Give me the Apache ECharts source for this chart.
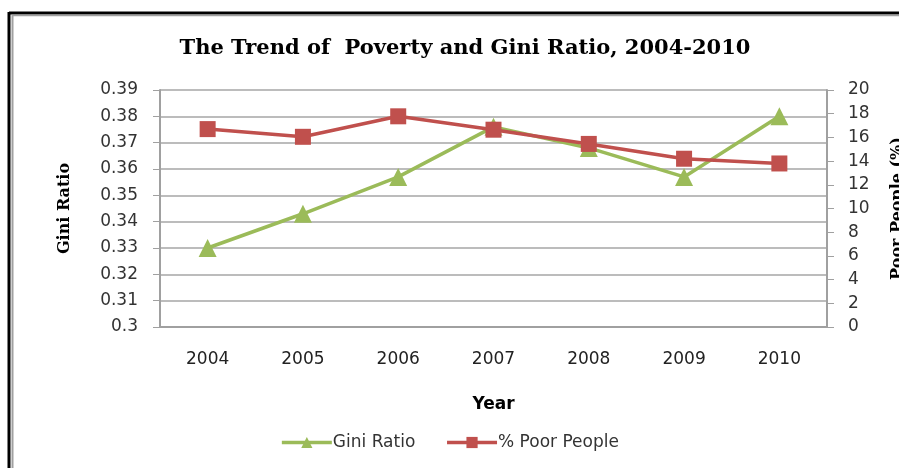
<!DOCTYPE html>
<html>
<head>
<meta charset="utf-8">
<script src="https://cdn.jsdelivr.net/npm/echarts@6/dist/echarts.min.js"></script>
<style>html,body{margin:0;padding:0;background:#fff}#c{width:899px;height:468px}</style>
</head>
<body>
<div id="c"></div>
<script>
const years = ['2004','2005','2006','2007','2008','2009','2010'];
const giniRatio = [0.330, 0.343, 0.357, 0.376, 0.368, 0.357, 0.380];
const poorPeople = [16.7, 16.05, 17.78, 16.65, 15.45, 14.2, 13.8];

const chart = echarts.init(document.getElementById('c'));
const labelFont = '"DejaVu Sans", sans-serif';
const serifFont = '"DejaVu Serif", serif';
chart.setOption({
  animation: false,
  backgroundColor: '#fff',
  title: {
    text: 'The Trend of  Poverty and Gini Ratio, 2004-2010',
    left: 460, top: 33, textAlign: 'center',
    textStyle: {fontFamily: serifFont, fontWeight: 'bold', fontSize: 21, color: '#000'}
  },
  graphic: [
    {type: 'line', shape: {x1: 9, y1: 13, x2: 910, y2: 13}, style: {stroke: '#000', lineWidth: 3}},
    {type: 'line', shape: {x1: 9, y1: 12, x2: 9, y2: 480}, style: {stroke: '#000', lineWidth: 3}},
    {type: 'line', shape: {x1: 12, y1: 15.5, x2: 910, y2: 15.5}, style: {stroke: '#a0a0a0', lineWidth: 1.5}},
    {type: 'line', shape: {x1: 12.5, y1: 15, x2: 12.5, y2: 480}, style: {stroke: '#a0a0a0', lineWidth: 2}}
  ],
  legend: {
    top: 429, left: 'center', itemGap: 30, itemWidth: 50, itemHeight: 14,
    textStyle: {fontFamily: labelFont, fontSize: 17, color: '#333', padding: [0, 0, 0, -4]},
    lineStyle: {width: 3.5},
    data: ['Gini Ratio', '% Poor People']
  },
  grid: {left: 160, right: 72, top: 90, bottom: 141, outerBoundsMode: 'none', containLabel: false},
  xAxis: {
    type: 'category', data: years, boundaryGap: true,
    name: 'Year', nameLocation: 'middle', nameGap: 69,
    nameTextStyle: {fontFamily: labelFont, fontWeight: 'bold', fontSize: 17, color: '#000'},
    axisLine: {lineStyle: {color: '#a0a0a0', width: 2}},
    axisTick: {show: false},
    axisLabel: {fontFamily: labelFont, fontSize: 17, color: '#222', margin: 24}
  },
  yAxis: [
    {
      type: 'value', min: 0.3, max: 0.39, interval: 0.01,
      name: 'Gini Ratio', nameLocation: 'middle', nameGap: 87, nameRotate: 90,
      nameTextStyle: {fontFamily: serifFont, fontWeight: 'bold', fontSize: 16, color: '#000'},
      axisLine: {show: true, lineStyle: {color: '#a0a0a0', width: 2}},
      axisTick: {show: true, length: 7, lineStyle: {color: '#a0a0a0'}},
      axisLabel: {fontFamily: labelFont, fontSize: 17, color: '#333', margin: 22,
        formatter: v => String(parseFloat(v.toFixed(2)))},
      splitLine: {lineStyle: {color: '#a6a6a6', width: 1.5}}
    },
    {
      type: 'value', min: 0, max: 20, interval: 2, position: 'right',
      name: 'Poor People (%)', nameLocation: 'middle', nameGap: 63, nameRotate: 90,
      nameTextStyle: {fontFamily: serifFont, fontWeight: 'bold', fontSize: 16, color: '#000'},
      axisLine: {show: true, lineStyle: {color: '#a0a0a0', width: 2}},
      axisTick: {show: true, length: 7, lineStyle: {color: '#a0a0a0'}},
      axisLabel: {fontFamily: labelFont, fontSize: 17, color: '#333', margin: 21},
      splitLine: {show: false}
    }
  ],
  series: [
    {
      name: 'Gini Ratio', type: 'line', yAxisIndex: 0, data: giniRatio,
      symbol: 'triangle', symbolSize: 18,
      lineStyle: {color: '#9bbb59', width: 3.5}, itemStyle: {color: '#9bbb59'}
    },
    {
      name: '% Poor People', type: 'line', yAxisIndex: 1, data: poorPeople,
      symbol: 'rect', symbolSize: 16,
      lineStyle: {color: '#c0504d', width: 3.5}, itemStyle: {color: '#c0504d'}
    }
  ]
});
</script>
</body>
</html>
